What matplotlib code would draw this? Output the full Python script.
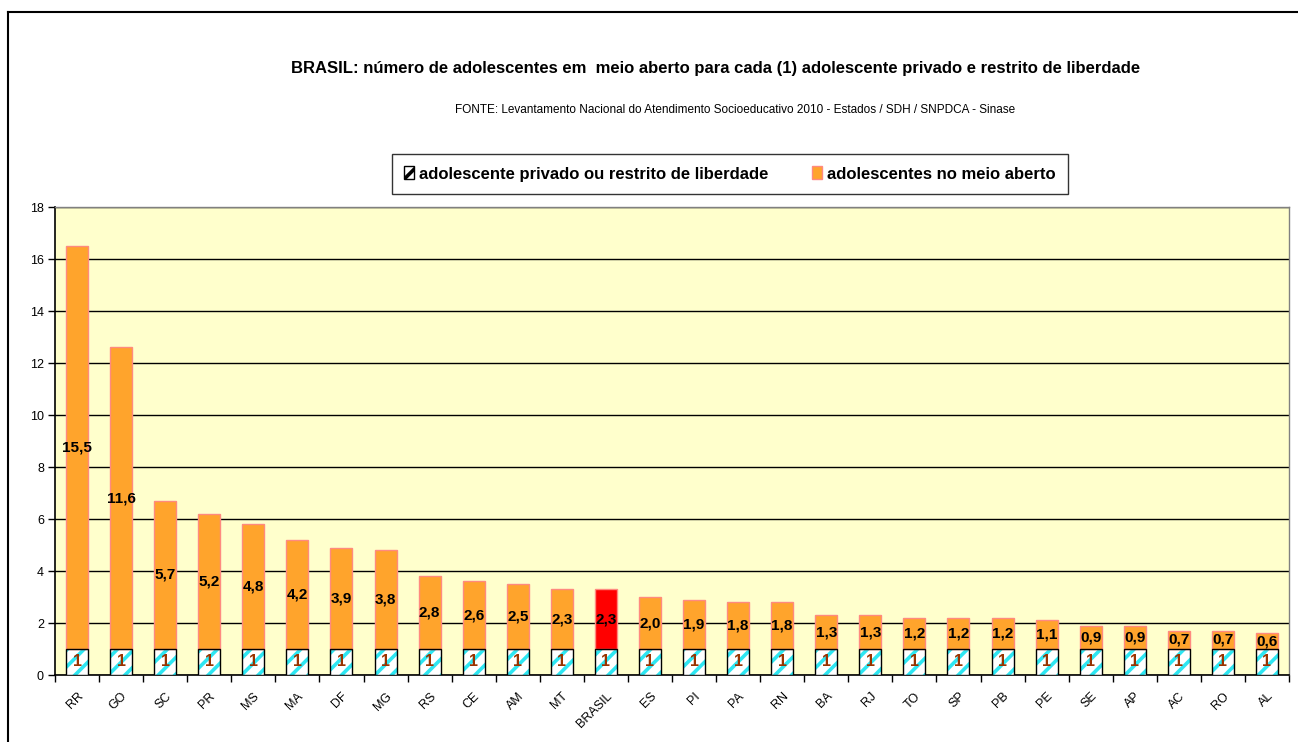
import matplotlib
matplotlib.use("Agg")
import matplotlib.pyplot as plt
from matplotlib.patches import Patch
from matplotlib.lines import Line2D

plt.rcParams['font.family'] = ['Liberation Sans', 'DejaVu Sans']
plt.rcParams['hatch.linewidth'] = 2.6

states = ["RR", "GO", "SC", "PR", "MS", "MA", "DF", "MG", "RS", "CE", "AM", "MT",
          "BRASIL", "ES", "PI", "PA", "RN", "BA", "RJ", "TO", "SP", "PB", "PE",
          "SE", "AP", "AC", "RO", "AL"]
privado = [1] * len(states)
meio_aberto = [15.5, 11.6, 5.7, 5.2, 4.8, 4.2, 3.9, 3.8, 2.8, 2.6, 2.5, 2.3,
               2.3, 2.0, 1.9, 1.8, 1.8, 1.3, 1.3, 1.2, 1.2, 1.2, 1.1,
               0.9, 0.9, 0.7, 0.7, 0.6]
yticks = [0, 2, 4, 6, 8, 10, 12, 14, 16, 18]

W, H = 1298, 742
fig = plt.figure(figsize=(W / 100, H / 100), dpi=100)
ax = fig.add_axes([55 / W, 1 - 675 / H, (1289 - 55) / W, (675 - 207) / H])
ax.set_facecolor('#FFFFCC')

x = list(range(len(states)))
orange = '#FFA42C'
cyan = '#2EE6F2'
colors = ['#FF0000' if s == 'BRASIL' else orange for s in states]
bw = 0.5

# hatched bottom segment
ax.bar(x, privado, width=bw, color='white', edgecolor=cyan, hatch='//',
       linewidth=0, zorder=3)
ax.bar(x, privado, width=bw, facecolor='none', edgecolor='black',
       linewidth=1.0, zorder=4)
# open-regime segment
ax.bar(x, meio_aberto, bottom=privado, width=bw, color=colors,
       edgecolor='#FF8A80', linewidth=1.0, zorder=3)

for xi, p, v in zip(x, privado, meio_aberto):
    ax.text(xi, p / 2, f"{p}", ha='center', va='center', fontsize=11.5,
            fontweight='bold', color='#993300', zorder=5)
    ax.text(xi, p + v / 2, f"{v:.1f}".replace('.', ','), ha='center',
            va='center', fontsize=11, fontweight='bold', color='black', zorder=5)

ax.set_xlim(-0.5, len(states) - 0.5)
ax.set_ylim(0, 18)
ax.set_yticks(yticks)
ax.set_yticklabels([str(t) for t in yticks], fontsize=9)
ax.yaxis.grid(True, color='black', linewidth=1.0, zorder=1)
ax.set_axisbelow(True)

ax.set_xticks(x)
ax.set_xticklabels(states, rotation=45, ha='right', rotation_mode='anchor',
                   fontsize=9)
ax.set_xticks([i - 0.5 for i in range(len(states) + 1)], minor=True)
ax.tick_params(axis='x', which='major', length=0, pad=11)
ax.tick_params(axis='x', which='minor', length=5, width=1, direction='out')
ax.tick_params(axis='y', length=5, width=1, direction='out', pad=3)

for side in ['top', 'right']:
    ax.spines[side].set_color('#808080')
    ax.spines[side].set_linewidth(1.0)
for side in ['left', 'bottom']:
    ax.spines[side].set_color('black')
    ax.spines[side].set_linewidth(1.2)

fig.text(716 / W, 1 - 68 / H,
         "BRASIL: número de adolescentes em  meio aberto para cada (1) adolescente privado e restrito de liberdade",
         ha='center', va='center', fontsize=12, fontweight='bold')
fig.text(735 / W, 1 - 110 / H,
         "FONTE: Levantamento Nacional do Atendimento Socioeducativo 2010 - Estados / SDH / SNPDCA - Sinase",
         ha='center', va='center', fontsize=8.5)

handles = [Patch(facecolor='white', edgecolor='black', hatch='//', linewidth=1.0),
           Patch(facecolor=orange, edgecolor='#FF8A80', linewidth=1.0)]
leg = fig.legend(handles, ["adolescente privado ou restrito de liberdade",
                           "adolescentes no meio aberto"],
                 loc='center', bbox_to_anchor=(730 / W, 1 - 174 / H), ncol=2,
                 prop={'weight': 'bold', 'size': 12},
                 frameon=True, fancybox=False, edgecolor='black',
                 handlelength=0.6, handleheight=0.8, handletextpad=0.3,
                 columnspacing=2.6, borderpad=0.75, borderaxespad=0)
leg.get_frame().set_linewidth(1.0)

# outer frame of the chart (top and left visible)
fig.add_artist(Line2D([8 / W, 1.0], [1 - 12 / H, 1 - 12 / H], color='black',
                      linewidth=1.5, transform=fig.transFigure))
fig.add_artist(Line2D([8 / W, 8 / W], [0.0, 1 - 12 / H], color='black',
                      linewidth=1.5, transform=fig.transFigure))

fig.savefig("out.png", dpi=100)
